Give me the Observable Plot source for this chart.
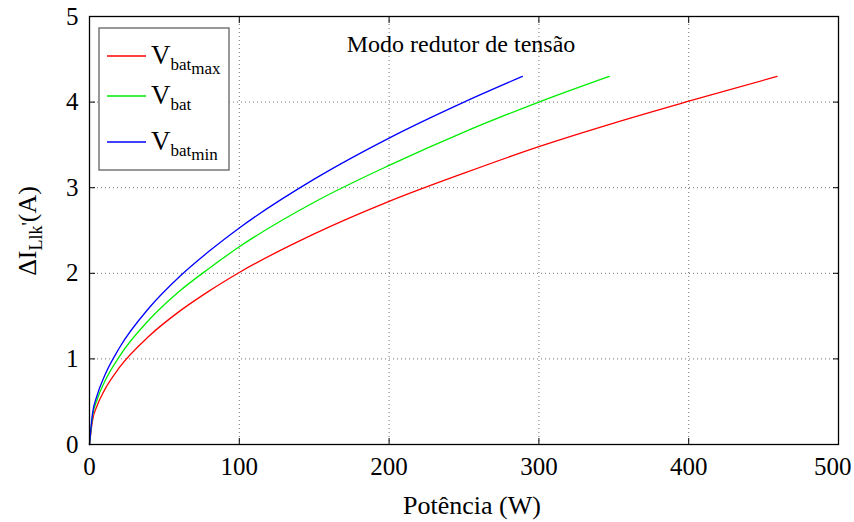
<!DOCTYPE html>
<html><head><meta charset="utf-8">
<script src="https://cdn.jsdelivr.net/npm/d3@7"></script>
<script src="https://cdn.jsdelivr.net/npm/@observablehq/plot@0.6"></script>
<style>body{margin:0;background:#fff} svg text{font-family:"Liberation Serif","Times New Roman",Times,Tinos,"DejaVu Serif","Noto Serif",serif !important}</style>
</head><body><div id="chart"></div>
<script>
const title = "Modo redutor de tensão";
const xLabel = "Potência (W)";
const seriesNames = ["max", "", "min"];
const seriesColors = ["#ff0000", "#00ee00", "#0000ff"];
const xTicks = [0, 100, 200, 300, 400, 500];
const xTicksInner = [0, 100, 200, 300, 400];
const xTicksLast = [500];
const yTicks = [0, 1, 2, 3, 4, 5];

const redX = [0, 2, 5, 10, 20, 40, 60, 80, 100, 150, 200, 250, 300, 350, 400, 459];
const redY = [0, 0.28, 0.45, 0.635, 0.9, 1.27, 1.555, 1.795, 2.01, 2.46, 2.84, 3.17, 3.48, 3.755, 4.01, 4.3];
const greenX = [0, 2, 5, 10, 20, 40, 60, 80, 100, 150, 200, 250, 300, 347];
const greenY = [0, 0.33, 0.52, 0.73, 1.03, 1.46, 1.79, 2.06, 2.31, 2.83, 3.26, 3.65, 4.0, 4.3];
const blueX = [0, 2, 5, 10, 20, 40, 60, 80, 100, 150, 200, 250, 289];
const blueY = [0, 0.36, 0.57, 0.8, 1.13, 1.6, 1.96, 2.26, 2.53, 3.1, 3.58, 4.0, 4.3];

const toRows = (xs, ys) => xs.map((x, i) => ({x, y: ys[i]}));
const rows = [toRows(redX, redY), toRows(greenX, greenY), toRows(blueX, blueY)];

const font = "'Liberation Serif', 'Times New Roman', Times, Tinos, 'DejaVu Serif', serif";
const fmt = d3.format("d");
const marks = [
  Plot.gridX(xTicks, {stroke: "#000", strokeOpacity: 0.55, strokeDasharray: "1,3"}),
  Plot.gridY(yTicks, {stroke: "#000", strokeOpacity: 0.55, strokeDasharray: "1,3"}),
  Plot.axisX(xTicksInner, {anchor: "bottom", tickSize: -6, tickPadding: 19, fontSize: 25, tickFormat: fmt, label: null}),
  Plot.axisX(xTicksLast, {anchor: "bottom", tickSize: 0, tickPadding: 13, fontSize: 25, tickFormat: fmt, textAnchor: "end", dx: 13, label: null}),
  Plot.axisX(xTicks, {anchor: "top", tickSize: -6, tickFormat: () => "", label: null}),
  Plot.axisY(yTicks, {anchor: "left", tickSize: -6, tickPadding: 17, fontSize: 25, tickFormat: fmt, label: null}),
  Plot.axisY(yTicks, {anchor: "right", tickSize: -6, tickFormat: () => "", label: null}),
  ...rows.map((r, i) => Plot.line(r, {x: "x", y: "y", stroke: seriesColors[i], strokeWidth: 1.3, curve: "monotone-x"})),
  Plot.frame({stroke: "#000", strokeWidth: 1.3}),
  Plot.text([title], {frameAnchor: "top", dx: -3, dy: 18, fontSize: 24, fill: "#000"})
];

const chart = Plot.plot({
  width: 854, height: 522,
  marginLeft: 89, marginRight: 16, marginTop: 16, marginBottom: 78,
  style: "font-family: 'Liberation Serif', 'Times New Roman', serif; background: #fff; color: #000; overflow: visible;",
  x: {domain: [0, 500]},
  y: {domain: [0, 5]},
  marks
});
document.getElementById("chart").append(chart);

const svg = d3.select(chart);
// x label
svg.append("text").attr("x", 472).attr("y", 514).attr("text-anchor", "middle")
  .style("font-family", font).attr("font-size", 26).attr("fill", "#000").text(xLabel);
// y label
const yl = svg.append("text").attr("transform", "translate(36,231) rotate(-90)")
  .attr("text-anchor", "middle").style("font-family", font).attr("font-size", 26).attr("fill", "#000");
yl.append("tspan").text("ΔI");
yl.append("tspan").attr("dy", 6).attr("font-size", 18).text("Llk");
yl.append("tspan").attr("dy", -7).attr("font-size", 18).text("'");
yl.append("tspan").attr("dy", 1).attr("font-size", 26).text("(A)");

// legend
const lg = svg.append("g");
lg.append("rect").attr("x", 99).attr("y", 28).attr("width", 130).attr("height", 142)
  .attr("fill", "#fff").attr("stroke", "#777").attr("stroke-width", 1.5);
const rowY = [56, 96, 142];
seriesNames.forEach((n, i) => {
  lg.append("line").attr("x1", 107).attr("x2", 146).attr("y1", rowY[i]).attr("y2", rowY[i])
    .attr("stroke", seriesColors[i]).attr("stroke-width", 1.3);
  const t = lg.append("text").attr("x", 151).attr("y", rowY[i] + 8).attr("text-anchor", "start")
    .style("font-family", font).attr("font-size", 27).attr("fill", "#000");
  t.append("tspan").text("V");
  t.append("tspan").attr("dy", 6).attr("font-size", 17).text("bat");
  if (n) t.append("tspan").attr("dy", 4).attr("font-size", 17).text(n);
});
</script>
</body></html>
